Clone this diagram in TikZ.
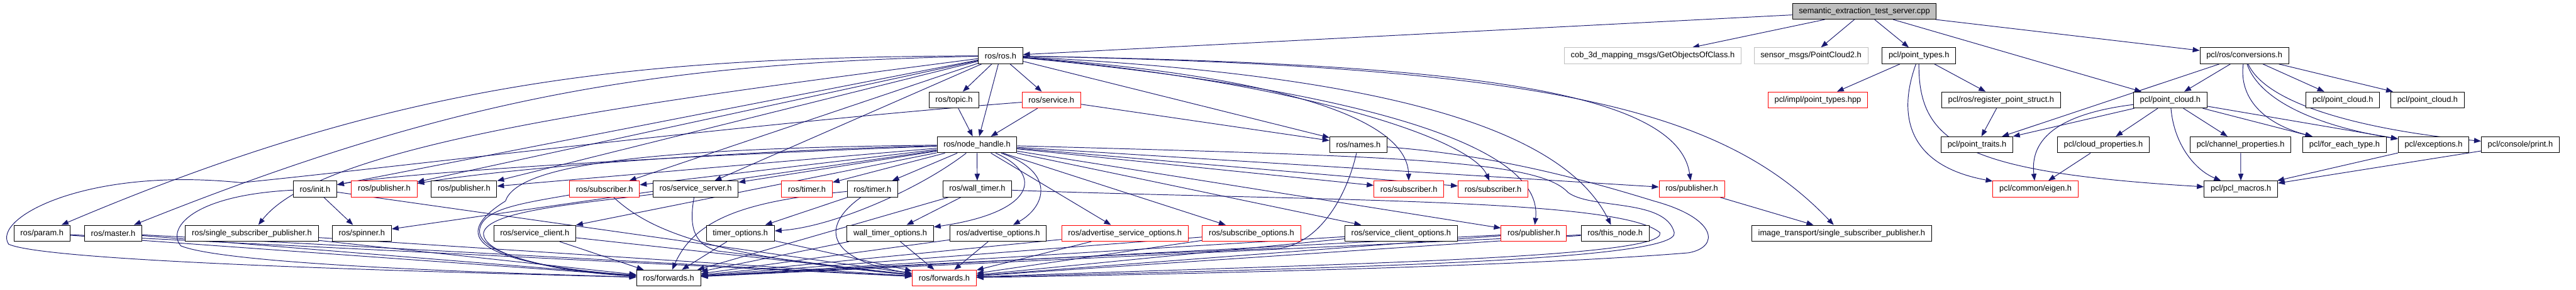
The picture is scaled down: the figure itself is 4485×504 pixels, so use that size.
\documentclass[tikz,border=0pt]{standalone}
\usepackage{fontspec}
\setmainfont{Liberation Sans}
\usetikzlibrary{arrows.meta,backgrounds}
\definecolor{edgeblue}{HTML}{191970}
\begin{document}
\begin{tikzpicture}[x=0.02cm,y=-0.02cm,
    hdr/.style={draw=black, fill=white, line width=0.6pt, minimum height=0.56cm,
      inner xsep=6.4pt, inner ysep=0pt, font=\fontsize{8}{9.6}\selectfont},
    trunc/.style={hdr, draw=red},
    ext/.style={hdr, draw=gray!50},
    srcfile/.style={hdr, fill=gray!50},
    dep/.style={draw=edgeblue, line width=0.6pt, -{Triangle[length=0.24cm,width=0.18cm]}}]
    \useasboundingbox (0,0) rectangle (4485,504);

    % Define node positions
    \node[srcfile] (src) at (3246,19.5) {semantic\_extraction\_test\_server.cpp};

    \node[hdr] (rosros) at (1742,97) {ros/ros.h};
    \node[ext] (cob) at (2877.5,97) {cob\_3d\_mapping\_msgs/GetObjectsOfClass.h};
    \node[ext] (sensor) at (3153,97) {sensor\_msgs/PointCloud2.h};
    \node[hdr] (ptypes) at (3341,97) {pcl/point\_types.h};
    \node[hdr] (conv) at (3907.5,97) {pcl/ros/conversions.h};

    \node[hdr] (topic) at (1661,174) {ros/topic.h};
    \node[trunc] (service) at (1830.5,174) {ros/service.h};
    \node[trunc] (impl) at (3165,174) {pcl/impl/point\_types.hpp};
    \node[hdr] (register) at (3484,174) {pcl/ros/register\_point\_struct.h};
    \node[hdr] (cloud) at (3778.5,174) {pcl/point\_cloud.h};
    \node[hdr] (cloudb) at (4079,174) {pcl/point\_cloud.h};
    \node[hdr] (cloudc) at (4226.5,174) {pcl/point\_cloud.h};

    \node[hdr] (nodehandle) at (1701,252) {ros/node\_handle.h};
    \node[hdr] (names) at (2365,252) {ros/names.h};
    \node[hdr] (traits) at (3442,252) {pcl/point\_traits.h};
    \node[hdr] (cloudprop) at (3662,252) {pcl/cloud\_properties.h};
    \node[hdr] (chanprop) at (3901,252) {pcl/channel\_properties.h};
    \node[hdr] (foreach) at (4082,252) {pcl/for\_each\_type.h};
    \node[hdr] (except) at (4237,252) {pcl/exceptions.h};
    \node[hdr] (print) at (4388,252) {pcl/console/print.h};

    \node[hdr] (init) at (548.5,329) {ros/init.h};
    \node[trunc] (puba) at (669,329) {ros/publisher.h};
    \node[hdr] (pubb) at (808,329) {ros/publisher.h};
    \node[trunc] (suba) at (1052.5,329) {ros/subscriber.h};
    \node[hdr] (server) at (1211,329) {ros/service\_server.h};
    \node[trunc] (timera) at (1405,329) {ros/timer.h};
    \node[hdr] (timerb) at (1519,329) {ros/timer.h};
    \node[hdr] (walltimer) at (1701.5,329) {ros/wall\_timer.h};
    \node[trunc] (subb) at (2453,329) {ros/subscriber.h};
    \node[trunc] (subc) at (2599.5,329) {ros/subscriber.h};
    \node[trunc] (pubc) at (2945.5,329) {ros/publisher.h};
    \node[trunc] (eigen) at (3544,329) {pcl/common/eigen.h};
    \node[hdr] (macros) at (3901.5,329) {pcl/pcl\_macros.h};

    \node[hdr] (param) at (73,406) {ros/param.h};
    \node[hdr] (master) at (197,406) {ros/master.h};
    \node[hdr] (ssp) at (438.5,406) {ros/single\_subscriber\_publisher.h};
    \node[hdr] (spinner) at (630,406) {ros/spinner.h};
    \node[hdr] (client) at (931,406) {ros/service\_client.h};
    \node[hdr] (timeropt) at (1289,406) {timer\_options.h};
    \node[hdr] (walltimeropt) at (1550,406) {wall\_timer\_options.h};
    \node[hdr] (advopt) at (1738,406) {ros/advertise\_options.h};
    \node[trunc] (advsrvopt) at (1958.5,406) {ros/advertise\_service\_options.h};
    \node[trunc] (subopt) at (2179,406) {ros/subscribe\_options.h};
    \node[hdr] (clientopt) at (2439.5,406) {ros/service\_client\_options.h};
    \node[trunc] (pubd) at (2670.5,406) {ros/publisher.h};
    \node[hdr] (thisnode) at (2812,406) {ros/this\_node.h};
    \node[hdr] (itssp) at (3206.5,406) {image\_transport/single\_subscriber\_publisher.h};

    \node[hdr] (fwda) at (1164,484) {ros/forwards.h};
    \node[trunc] (fwdb) at (1644,484) {ros/forwards.h};

    % Draw arrows
    \begin{scope}[on background layer]
    \draw[dep] (src) -- (rosros); \draw[dep] (src) -- (cob); \draw[dep] (src) -- (sensor);
    \draw[dep] (src) -- (ptypes); \draw[dep] (src) -- (conv); \draw[dep] (src) -- (cloud);

    % pcl side
    \draw[dep] (ptypes) -- (impl); \draw[dep] (ptypes) -- (register);
    \draw[dep] (ptypes) .. controls (3300,210) and (3330,290) .. (eigen);
    \draw[dep] (ptypes) .. controls (3340,250) and (3420,300) .. (macros);
    \draw[dep] (register) -- (traits); \draw[dep] (conv) -- (traits);
    \draw[dep] (conv) -- (cloud); \draw[dep] (conv) -- (cloudb); \draw[dep] (conv) -- (cloudc);
    \draw[dep] (conv) .. controls (3898,170) and (3940,215) .. (foreach);
    \draw[dep] (conv) .. controls (3930,165) and (4010,215) .. (except);
    \draw[dep] (conv) .. controls (3950,190) and (4150,230) .. (print);
    \draw[dep] (cloud) -- (traits);
    \draw[dep] (cloud) .. controls (3570,200) and (3535,250) .. (eigen);
    \draw[dep] (cloud) -- (cloudprop); \draw[dep] (cloud) -- (chanprop);
    \draw[dep] (cloud) .. controls (3785,250) and (3820,295) .. (macros);
    \draw[dep] (cloud) -- (foreach); \draw[dep] (cloud) -- (except);
    \draw[dep] (cloudprop) -- (eigen); \draw[dep] (chanprop) -- (macros);
    \draw[dep] (except) -- (macros); \draw[dep] (print) -- (macros);

    % ros/ros.h
    \draw[dep] (rosros) -- (topic); \draw[dep] (rosros) -- (nodehandle);
    \draw[dep] (rosros) -- (service); \draw[dep] (topic) -- (nodehandle);
    \draw[dep] (service) -- (nodehandle); \draw[dep] (rosros) -- (names);
    \draw[dep] (service) -- (names);
    \draw[dep] (rosros) .. controls (1100,100) and (700,140) .. (param);
    \draw[dep] (rosros) .. controls (1150,110) and (800,165) .. (master);
    \draw[dep] (rosros) .. controls (1100,180) and (560,250) .. (ssp);
    \draw[dep] (rosros) -- (init); \draw[dep] (rosros) -- (puba); \draw[dep] (rosros) -- (pubb);
    \draw[dep] (rosros) -- (suba); \draw[dep] (rosros) -- (server);
    \draw[dep] (rosros) .. controls (2200,130) and (2450,200) .. (subb);
    \draw[dep] (rosros) .. controls (2250,140) and (2560,240) .. (subc);
    \draw[dep] (rosros) .. controls (2300,150) and (2690,240) .. (pubd);
    \draw[dep] (rosros) .. controls (2400,130) and (2720,220) .. (thisnode);
    \draw[dep] (rosros) .. controls (2500,110) and (2920,150) .. (pubc);
    \draw[dep] (rosros) .. controls (2700,115) and (3000,190) .. (itssp);
    \draw[dep] (pubc) -- (itssp);

    % ros/node_handle.h
    \draw[dep] (nodehandle) .. controls (1200,270) and (700,300) .. (init);
    \draw[dep] (nodehandle) .. controls (1300,262) and (900,290) .. (puba);
    \draw[dep] (nodehandle) -- (pubb); \draw[dep] (nodehandle) -- (suba);
    \draw[dep] (nodehandle) -- (server); \draw[dep] (nodehandle) -- (timera);
    \draw[dep] (nodehandle) -- (timerb); \draw[dep] (nodehandle) -- (walltimer);
    \draw[dep] (nodehandle) -- (spinner); \draw[dep] (nodehandle) -- (client);
    \draw[dep] (nodehandle) .. controls (1600,330) and (1450,395) .. (timeropt);
    \draw[dep] (nodehandle) .. controls (1820,305) and (1800,370) .. (walltimeropt);
    \draw[dep] (nodehandle) .. controls (1840,300) and (1820,360) .. (advopt);
    \draw[dep] (nodehandle) -- (advsrvopt); \draw[dep] (nodehandle) -- (subopt);
    \draw[dep] (nodehandle) -- (clientopt); \draw[dep] (nodehandle) -- (pubd);
    \draw[dep] (nodehandle) -- (subb); \draw[dep] (nodehandle) -- (subc);
    \draw[dep] (nodehandle) -- (pubc);

    % second row of includes
    \draw[dep] (init) -- (spinner); \draw[dep] (init) -- (fwdb);
    \draw[dep] (init) .. controls (330,340) and (290,400) .. (315,428)
      .. controls (400,462) and (900,476) .. (fwda);
    \draw[dep] (service) .. controls (1300,215) and (700,290) .. (420,318)
      .. controls (150,290) and (-15,380) .. (15,425)
      .. controls (80,455) and (700,472) .. (fwda);
    \draw[dep] (nodehandle) .. controls (1100,258) and (900,290) .. (880,350)
      .. controls (800,400) and (790,455) .. (fwda);
    \draw[dep] (suba) .. controls (900,355) and (840,365) .. (835,400)
      .. controls (830,440) and (950,470) .. (fwda);
    \draw[dep] (server) .. controls (1000,355) and (850,368) .. (842,405)
      .. controls (838,440) and (950,472) .. (fwda);
    \draw[dep] (server) .. controls (1200,390) and (1205,425) .. (1250,437)
      .. controls (1400,455) and (1500,470) .. (fwdb);
    \draw[dep] (suba) .. controls (1130,400) and (1230,445) .. (fwdb);
    \draw[dep] (client) -- (fwda); \draw[dep] (client) -- (fwdb);
    \draw[dep] (timerb) -- (timeropt);
    \draw[dep] (timerb) .. controls (1300,350) and (1210,380) .. (fwda);
    \draw[dep] (timerb) .. controls (1420,400) and (1450,455) .. (fwdb);
    \draw[dep] (timeropt) -- (fwda); \draw[dep] (timeropt) -- (fwdb);
    \draw[dep] (walltimer) -- (walltimeropt); \draw[dep] (walltimer) -- (fwda);
    \draw[dep] (walltimeropt) -- (fwda); \draw[dep] (walltimeropt) -- (fwdb);
    \draw[dep] (advopt) -- (fwda); \draw[dep] (advopt) -- (fwdb);
    \draw[dep] (advsrvopt) -- (fwda); \draw[dep] (advsrvopt) -- (fwdb);
    \draw[dep] (subopt) -- (fwda); \draw[dep] (subopt) -- (fwdb);
    \draw[dep] (clientopt) -- (fwda); \draw[dep] (clientopt) -- (fwdb);
    \draw[dep] (pubd) -- (fwda); \draw[dep] (pubd) -- (fwdb);
    \draw[dep] (thisnode) -- (fwda); \draw[dep] (thisnode) -- (fwdb);
    \draw[dep] (param) -- (fwda); \draw[dep] (param) -- (fwdb);
    \draw[dep] (master) -- (fwda); \draw[dep] (master) -- (fwdb);
    \draw[dep] (ssp) -- (fwda); \draw[dep] (ssp) -- (fwdb);
    \draw[dep] (names) .. controls (2345,340) and (2300,420) .. (2230,432)
      .. controls (1900,445) and (1400,470) .. (fwda);

    % loops round the right side
    \draw[dep] (walltimer) .. controls (2300,350) and (2820,345) .. (2890,405)
      .. controls (2905,450) and (2300,460) .. (fwdb);
    \draw[dep] (nodehandle) .. controls (2450,272) and (2680,280) .. (2730,335)
      .. controls (2770,365) and (2900,345) .. (2915,405)
      .. controls (2925,455) and (2300,467) .. (fwdb);
    \draw[dep] (names) .. controls (2600,270) and (2750,310) .. (2880,350)
      .. controls (2990,380) and (2995,430) .. (2940,440)
      .. controls (2700,460) and (2200,475) .. (fwdb);
    \end{scope}
\end{tikzpicture}
\end{document}
